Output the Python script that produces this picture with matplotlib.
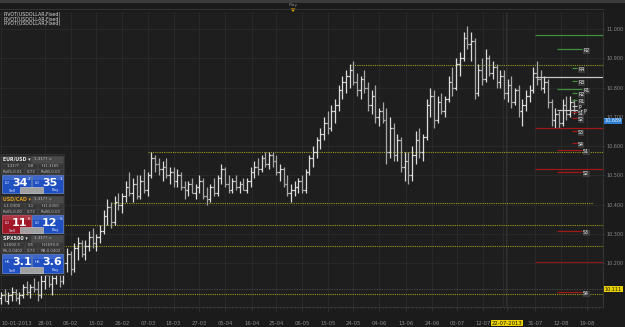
import numpy as np
import matplotlib
matplotlib.use("Agg")
import matplotlib.pyplot as plt
from matplotlib.patches import Rectangle, Polygon
import matplotlib.transforms as mtransforms

# daily OHLC bars, 10-01-2013 onwards
opens = [10.08, 10.09, 10.07, 10.09, 10.10, 10.08, 10.09, 10.12, 10.10, 10.12,
         10.11, 10.09, 10.14, 10.16, 10.13, 10.15, 10.18, 10.14, 10.20, 10.23,
         10.18, 10.25, 10.27, 10.23, 10.26, 10.29, 10.27, 10.29, 10.31, 10.36,
         10.39, 10.34, 10.41, 10.40, 10.43, 10.46, 10.44, 10.47, 10.43, 10.48,
         10.45, 10.50, 10.56, 10.54, 10.52, 10.53, 10.50, 10.51, 10.48, 10.50,
         10.46, 10.45, 10.47, 10.44, 10.46, 10.48, 10.43, 10.42, 10.46, 10.44,
         10.49, 10.52, 10.47, 10.45, 10.48, 10.46, 10.47, 10.45, 10.48, 10.51,
         10.53, 10.52, 10.56, 10.54, 10.57, 10.55, 10.51, 10.52, 10.47, 10.44,
         10.45, 10.46, 10.48, 10.45, 10.51, 10.56, 10.58, 10.62, 10.64, 10.68,
         10.66, 10.72, 10.74, 10.79, 10.82, 10.84, 10.86, 10.82, 10.79, 10.83,
         10.80, 10.74, 10.77, 10.70, 10.72, 10.69, 10.58, 10.66, 10.57, 10.62,
         10.53, 10.55, 10.50, 10.57, 10.62, 10.58, 10.63, 10.74, 10.77, 10.69,
         10.75, 10.72, 10.76, 10.82, 10.80, 10.88, 10.90, 10.97, 10.95, 10.96,
         10.78, 10.86, 10.83, 10.90, 10.85, 10.87, 10.82, 10.84, 10.78, 10.81,
         10.75, 10.79, 10.72, 10.74, 10.77, 10.79, 10.85, 10.83, 10.80, 10.82,
         10.75, 10.69, 10.71, 10.68, 10.74, 10.71, 10.75]
highs = [10.10, 10.11, 10.10, 10.12, 10.11, 10.10, 10.13, 10.14, 10.13, 10.15,
         10.14, 10.16, 10.18, 10.19, 10.17, 10.20, 10.19, 10.22, 10.25, 10.24,
         10.27, 10.29, 10.28, 10.28, 10.31, 10.32, 10.30, 10.33, 10.38, 10.42,
         10.41, 10.43, 10.44, 10.44, 10.48, 10.51, 10.49, 10.50, 10.50, 10.52,
         10.51, 10.58, 10.57, 10.56, 10.55, 10.56, 10.53, 10.53, 10.52, 10.51,
         10.48, 10.48, 10.49, 10.47, 10.50, 10.49, 10.46, 10.47, 10.49, 10.50,
         10.54, 10.53, 10.50, 10.49, 10.50, 10.48, 10.49, 10.49, 10.53, 10.55,
         10.56, 10.57, 10.58, 10.58, 10.58, 10.57, 10.54, 10.53, 10.50, 10.47,
         10.48, 10.49, 10.50, 10.52, 10.57, 10.60, 10.63, 10.66, 10.70, 10.72,
         10.74, 10.76, 10.81, 10.84, 10.86, 10.88, 10.89, 10.85, 10.84, 10.86,
         10.82, 10.79, 10.81, 10.73, 10.75, 10.73, 10.70, 10.68, 10.64, 10.63,
         10.58, 10.58, 10.60, 10.65, 10.66, 10.64, 10.76, 10.80, 10.79, 10.77,
         10.78, 10.77, 10.84, 10.87, 10.90, 10.92, 10.99, 11.01, 10.99, 10.97,
         10.88, 10.90, 10.93, 10.91, 10.89, 10.88, 10.86, 10.86, 10.83, 10.84,
         10.80, 10.81, 10.76, 10.79, 10.81, 10.87, 10.89, 10.86, 10.84, 10.83,
         10.76, 10.73, 10.72, 10.76, 10.77, 10.77, 10.76]
lows = [10.06, 10.07, 10.06, 10.07, 10.07, 10.06, 10.08, 10.09, 10.08, 10.10,
        10.07, 10.08, 10.11, 10.12, 10.09, 10.13, 10.12, 10.13, 10.17, 10.16,
        10.17, 10.21, 10.22, 10.21, 10.24, 10.25, 10.24, 10.27, 10.30, 10.33,
        10.32, 10.33, 10.38, 10.37, 10.41, 10.43, 10.41, 10.42, 10.42, 10.44,
        10.43, 10.49, 10.51, 10.50, 10.48, 10.49, 10.47, 10.46, 10.46, 10.45,
        10.42, 10.43, 10.44, 10.42, 10.44, 10.42, 10.40, 10.41, 10.43, 10.43,
        10.47, 10.46, 10.44, 10.44, 10.45, 10.44, 10.45, 10.44, 10.46, 10.49,
        10.50, 10.51, 10.53, 10.52, 10.53, 10.50, 10.48, 10.46, 10.43, 10.41,
        10.43, 10.44, 10.44, 10.44, 10.50, 10.53, 10.56, 10.59, 10.62, 10.64,
        10.65, 10.68, 10.72, 10.76, 10.78, 10.80, 10.81, 10.77, 10.76, 10.78,
        10.72, 10.71, 10.68, 10.67, 10.68, 10.54, 10.56, 10.55, 10.55, 10.51,
        10.48, 10.47, 10.48, 10.54, 10.56, 10.55, 10.62, 10.70, 10.66, 10.68,
        10.71, 10.70, 10.75, 10.77, 10.79, 10.84, 10.89, 10.93, 10.89, 10.76,
        10.77, 10.81, 10.82, 10.84, 10.83, 10.80, 10.80, 10.76, 10.75, 10.73,
        10.74, 10.70, 10.67, 10.72, 10.75, 10.78, 10.81, 10.79, 10.78, 10.73,
        10.67, 10.66, 10.66, 10.67, 10.69, 10.70, 10.71]
closes = [10.09, 10.07, 10.09, 10.10, 10.08, 10.09, 10.12, 10.10, 10.12, 10.11,
          10.09, 10.14, 10.16, 10.13, 10.15, 10.18, 10.14, 10.20, 10.23, 10.18,
          10.25, 10.27, 10.23, 10.26, 10.29, 10.27, 10.29, 10.31, 10.36, 10.39,
          10.34, 10.41, 10.40, 10.43, 10.46, 10.44, 10.47, 10.43, 10.48, 10.45,
          10.50, 10.56, 10.54, 10.52, 10.53, 10.50, 10.51, 10.48, 10.50, 10.46,
          10.45, 10.47, 10.44, 10.46, 10.48, 10.43, 10.42, 10.46, 10.44, 10.49,
          10.52, 10.47, 10.45, 10.48, 10.46, 10.47, 10.45, 10.48, 10.51, 10.53,
          10.52, 10.56, 10.54, 10.57, 10.55, 10.51, 10.52, 10.47, 10.44, 10.45,
          10.46, 10.48, 10.45, 10.51, 10.56, 10.58, 10.62, 10.64, 10.68, 10.66,
          10.72, 10.74, 10.79, 10.82, 10.84, 10.86, 10.82, 10.79, 10.83, 10.80,
          10.74, 10.77, 10.70, 10.72, 10.69, 10.58, 10.66, 10.57, 10.62, 10.53,
          10.55, 10.50, 10.57, 10.62, 10.58, 10.63, 10.74, 10.77, 10.69, 10.75,
          10.72, 10.76, 10.82, 10.80, 10.88, 10.90, 10.97, 10.95, 10.96, 10.78,
          10.86, 10.83, 10.90, 10.85, 10.87, 10.82, 10.84, 10.78, 10.81, 10.75,
          10.79, 10.72, 10.74, 10.77, 10.79, 10.85, 10.83, 10.80, 10.82, 10.75,
          10.69, 10.71, 10.68, 10.74, 10.71, 10.75, 10.72]

date_pos = [0, 12, 19, 26, 33, 40, 47, 54, 61, 68.5, 75, 82, 89, 96, 103,
            110.3, 117.4, 124.3, 131.3, 137.9, 145.5, 152.6, 159.7]
date_labels = ["10-01-2013", "28-01", "06-02", "15-02", "26-02", "07-03", "18-03",
               "27-03", "05-04", "16-04", "25-04", "06-05", "15-05", "24-05",
               "04-06", "13-06", "24-06", "03-07", "12-07", "22-07-2013",
               "31-07", "12-08", "19-08"]

# long yellow pivot lines: level, first bar, last bar
yl_levels = [10.877, 10.579, 10.404, 10.329, 10.257, 10.096]
yl_start = [95, 40, 30, 0, 0, 0]
yl_end = [164, 164, 161.3, 164, 164, 164]

# monthly / weekly / daily pivot segments on the right
long_levels = [10.979, 10.836, 10.661, 10.521, 10.203]
long_cols = ['#3f8f3f', '#c8c8c8', '#a01818', '#a01818', '#8a1818']
mid_levels = [10.932, 10.795, 10.723, 10.586, 10.511, 10.309, 10.101]
mid_names = ["R2", "R1", "P", "S1", "S2", "S3", "S4"]
mid_cols = ['#3f8f3f', '#3f8f3f', '#c8c8c8', '#a01818', '#a01818', '#a01818', '#a01818']
short_levels = [10.867, 10.822, 10.781, 10.757, 10.737, 10.716, 10.696, 10.651, 10.610]
short_names = ["R4", "R3", "R2", "R1", "P", "S1", "S2", "S3", "S4"]
short_cols = ['#3f8f3f'] * 4 + ['#c8c8c8'] + ['#a01818'] * 4

W, H = 625, 327
fig = plt.figure(figsize=(W / 100, H / 100), dpi=100)
fig.patch.set_facecolor('#1b1b1b')

ax = fig.add_axes([0, 20 / H, 603 / W, 295 / H])
ax.set_facecolor('#1e1e1e')
ax.set_xlim(-0.27, 164.0)
ax.set_ylim(10.050, 11.058)

# grid and axes
ax.set_yticks(np.arange(10.2, 11.01, 0.1))
ax.set_yticklabels(["%.3f" % v for v in np.arange(10.2, 11.01, 0.1)])
ax.set_yticks(np.arange(10.06, 11.05, 0.02), minor=True)
ax.set_xticks(date_pos)
ax.set_xticklabels(date_labels)
ax.set_xticks(np.arange(0, 164, 1), minor=True)
ax.grid(True, which='major', color='#2b2b2b', lw=0.6)
ax.yaxis.tick_right()
ax.tick_params(axis='y', which='major', colors='#3a3a3a', labelcolor='#8a8a8a',
               labelsize=3.5, length=1.5, width=0.5, pad=0.8)
ax.tick_params(axis='y', which='minor', colors='#3a3a3a', length=1.0, width=0.4)
ax.tick_params(axis='x', which='major', colors='#3a3a3a', labelcolor='#8a8a8a',
               labelsize=3.8, length=3, width=0.5, pad=7)
ax.tick_params(axis='x', which='minor', colors='#3a3a3a', length=1.5, width=0.4)
for s in ax.spines.values():
    s.set_color('#3a3a3a')
    s.set_linewidth(0.6)
ax.spines['left'].set_visible(False)
ax.spines['top'].set_visible(False)

for lbl in ax.get_xticklabels():
    if lbl.get_text() == "22-07-2013":
        lbl.set_color('#1b1b1b')
        lbl.set_bbox(dict(facecolor='#e8d000', edgecolor='none', pad=0.3))
    if lbl.get_text() == "10-01-2013":
        lbl.set_ha('left')

# today marker
ax.axvline(137.6, color='#4a4a4a', lw=0.6, ls=(0, (1, 1)))
ax.axvline(136.8, color='#3a3a3a', lw=0.6, ls=(0, (1, 1)))

# yellow dotted pivot levels
for lv, a, b in zip(yl_levels, yl_start, yl_end):
    ax.hlines(lv, a, b, color='#9a9a1e', lw=0.8, linestyles=(0, (1, 1)))
ax.axhline(10.111, color='#555555', lw=0.6, ls=(0, (1, 1)))

# OHLC bars
x = np.arange(len(closes))
o = np.array(opens); c = np.array(closes)
cols = np.where(c >= o, '#dcdcdc', '#a8a8a8')
ax.vlines(x, lows, highs, colors=cols, lw=0.9)
ax.hlines(opens, x - 0.5, x, colors=cols, lw=0.9)
ax.hlines(closes, x, x + 0.5, colors=cols, lw=0.9)

# right hand pivot segments
for lv, cl in zip(long_levels, long_cols):
    ax.hlines(lv, 145.5, 164, color=cl, lw=0.9)
for lv, nm, cl in zip(mid_levels, mid_names, mid_cols):
    ax.hlines(lv, 151.5, 158.3, color=cl, lw=0.9)
    ax.text(158.6, lv - 0.006, nm, fontsize=3.4, color='#e8e8e8', va='center', ha='left',
            bbox=dict(facecolor='#3a3a3a', edgecolor='none', pad=0.3))
for lv, nm, cl in zip(short_levels, short_names, short_cols):
    ax.hlines(lv, 155.6, 156.9, color=cl, lw=0.9)
    ax.text(157.2, lv - 0.006, nm, fontsize=3.4, color='#e8e8e8', va='center', ha='left',
            bbox=dict(facecolor='#3a3a3a', edgecolor='none', pad=0.3))

# price tags on the axis
tr = mtransforms.blended_transform_factory(ax.transAxes, ax.transData)
ax.text(1.003, 10.686, "10.689", transform=tr, fontsize=3.5, color='#dfefff', va='center',
        ha='left', clip_on=False, bbox=dict(facecolor='#2f7fd0', edgecolor='none', pad=0.5))
ax.text(1.003, 10.111, "10.111", transform=tr, fontsize=3.5, color='#1b1b1b', va='center',
        ha='left', clip_on=False, bbox=dict(facecolor='#e8d000', edgecolor='none', pad=0.5))

# ---- window chrome, drawn in pixel coordinates
ui = fig.add_axes([0, 0, 1, 1], zorder=5)
ui.set_xlim(0, W)
ui.set_ylim(H, 0)
ui.axis('off')
ui.patch.set_visible(False)

def box(x0, y0, x1, y1, fc, ec='#4a4a4a', lw=0.4):
    ui.add_patch(Rectangle((x0, y0), x1 - x0, y1 - y0, facecolor=fc, edgecolor=ec, linewidth=lw))

box(0, 0, W, 2.5, '#3c3c3c', ec='none')
box(0, 2.5, W, 9, '#1a1a1a', ec='none')
ui.plot([0, 603], [9, 9], color='#3a3a3a', lw=0.6)
ui.text(293, 5, "Play", fontsize=3.2, color='#8a8a8a', ha='center', va='center')
ui.add_patch(Polygon([[290.5, 8.5], [295.5, 8.5], [293, 12]], closed=True, facecolor='#f0b000'))

for yy in [14.5, 19, 23.5]:
    ui.text(3, yy, "PIVOT(USDOLLAR,Fixed)", fontsize=3.4, color='#d8d8d8', ha='left', va='center')

# trading widgets
box(0, 154, 64, 275, '#262626', ec='#3c3c3c')
widgets = [
    (156, "EUR/USD", '#e8e8e8', ["1.31??", "0.8", "H:1.3165"], ["RollS-0.01", "0.73", "RollB-0.03"],
     ("L0", "34", "2", '#1f4fc0'), ("L0", "35", "1", '#1f4fc0')),
    (196, "USD/CAD", '#e0a020', ["L:1.0300", "1.1", "H:1.0350"], ["RollS-0.00", "0.73", "RollB-0.03"],
     ("L0", "11", "6", '#a01828'), ("L0", "12", "5", '#1f4fc0')),
    (235, "SPX500", '#e8e8e8', ["L:1692.5", "0.5", "H:1699.8"], ["RS-0.0402", "0.73", "RB-0.0402"],
     ("H6", "3.1", "", '#1f4fc0'), ("H6", "3.6", "", '#1f4fc0')),
]
for y0, name, ncol, row1, row2, lb, rb in widgets:
    box(1, y0, 30, y0 + 6.5, '#333333')
    ui.text(3, y0 + 3.3, name + " \u25be", fontsize=3.4, color=ncol, weight='bold', va='center')
    box(31, y0, 63, y0 + 6.5, '#4a4a4a')
    ui.text(34, y0 + 3.3, "1.31?? \u00d7", fontsize=3.0, color='#bbbbbb', va='center')
    for ry, vals in [(y0 + 7.5, row1), (y0 + 13, row2)]:
        for (bx0, bx1), v in zip([(1, 24), (25, 37), (38, 63)], vals):
            box(bx0, ry, bx1, ry + 5, '#363636')
            ui.text((bx0 + bx1) / 2, ry + 2.6, v, fontsize=2.8, color='#bbbbbb', ha='center', va='center')
    by0 = y0 + 19
    by1 = y0 + 37 if y0 != 235 else y0 + 38
    for (bx0, bx1), (pre, big, sup, fc) in zip([(2, 31), (32, 63)], [lb, rb]):
        box(bx0, by0, bx1, by1, fc, ec='#6a8ad0' if fc != '#a01828' else '#d06070', lw=0.5)
        box(bx0 + 0.5, by0 + 0.5, bx1 - 0.5, by0 + 5, '#ffffff22', ec='none')
        ui.text(bx0 + 3, by0 + 8, pre, fontsize=3.0, color='#dde4ff', va='center')
        ui.text(bx0 + 10, by0 + 8, big, fontsize=8, color='white', weight='bold', va='center')
        if sup:
            ui.text(bx1 - 3, by0 + 3.5, sup, fontsize=3.0, color='white', va='center')
    ui.text(9, by1 - 2.5, "Sell", fontsize=2.8, color='#dde4ff', va='center')
    ui.text(52, by1 - 2.5, "Buy", fontsize=2.8, color='#dde4ff', va='center')
    box(20, by1 - 6, 43, by1 - 0.5, '#a0a0a0', ec='#d0d0d0')

fig.savefig("out.png", dpi=100, facecolor=fig.get_facecolor())
